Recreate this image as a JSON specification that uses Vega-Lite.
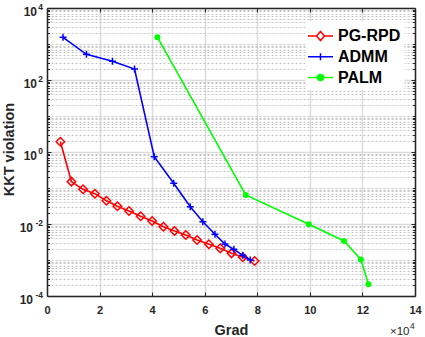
{
  "$schema": "https://vega.github.io/schema/vega-lite/v6.json",
  "width": 368,
  "height": 288,
  "autosize": "none",
  "padding": {"left": 47, "top": 8, "right": 10, "bottom": 41},
  "background": "white",
  "data": {
    "values": [
      {"method": "PG-RPD", "grad": 5100, "kkt": 1.93},
      {"method": "PG-RPD", "grad": 9300, "kkt": 0.15},
      {"method": "PG-RPD", "grad": 13700, "kkt": 0.092},
      {"method": "PG-RPD", "grad": 18200, "kkt": 0.0695},
      {"method": "PG-RPD", "grad": 22600, "kkt": 0.0443},
      {"method": "PG-RPD", "grad": 26800, "kkt": 0.031},
      {"method": "PG-RPD", "grad": 31200, "kkt": 0.023},
      {"method": "PG-RPD", "grad": 35600, "kkt": 0.0164},
      {"method": "PG-RPD", "grad": 40000, "kkt": 0.0121},
      {"method": "PG-RPD", "grad": 44300, "kkt": 0.0084},
      {"method": "PG-RPD", "grad": 48500, "kkt": 0.0064},
      {"method": "PG-RPD", "grad": 52800, "kkt": 0.00494},
      {"method": "PG-RPD", "grad": 57100, "kkt": 0.0036},
      {"method": "PG-RPD", "grad": 61600, "kkt": 0.00273},
      {"method": "PG-RPD", "grad": 65900, "kkt": 0.00211},
      {"method": "PG-RPD", "grad": 70200, "kkt": 0.00153},
      {"method": "PG-RPD", "grad": 74500, "kkt": 0.00119},
      {"method": "PG-RPD", "grad": 79000, "kkt": 0.00094},
      {"method": "ADMM", "grad": 6100, "kkt": 1535},
      {"method": "ADMM", "grad": 15000, "kkt": 518},
      {"method": "ADMM", "grad": 24900, "kkt": 330},
      {"method": "ADMM", "grad": 33300, "kkt": 202},
      {"method": "ADMM", "grad": 40800, "kkt": 0.74},
      {"method": "ADMM", "grad": 48200, "kkt": 0.135},
      {"method": "ADMM", "grad": 54500, "kkt": 0.0303},
      {"method": "ADMM", "grad": 59300, "kkt": 0.0116},
      {"method": "ADMM", "grad": 63900, "kkt": 0.00518},
      {"method": "ADMM", "grad": 67700, "kkt": 0.00278},
      {"method": "ADMM", "grad": 71100, "kkt": 0.00198},
      {"method": "ADMM", "grad": 74500, "kkt": 0.00135},
      {"method": "ADMM", "grad": 77300, "kkt": 0.001},
      {"method": "PALM", "grad": 42000, "kkt": 1550},
      {"method": "PALM", "grad": 75600, "kkt": 0.064},
      {"method": "PALM", "grad": 99600, "kkt": 0.0098},
      {"method": "PALM", "grad": 113000, "kkt": 0.00337},
      {"method": "PALM", "grad": 119400, "kkt": 0.00104},
      {"method": "PALM", "grad": 122300, "kkt": 0.000211}
    ]
  },
  "layer": [
    {
      "mark": {"type": "line", "opacity": 0},
      "encoding": {
        "detail": {"field": "method"},
        "x": {"field": "grad", "type": "quantitative", "scale": {"domain": [0, 140000], "nice": false, "zero": false},
          "axis": {"orient": "bottom", "values": [0, 20000, 40000, 60000, 80000, 100000, 120000, 140000],
            "labelExpr": "format(datum.value/10000, 'd')", "grid": true, "gridColor": "#dcdcdc", "gridWidth": 1.5,
            "tickSize": -4, "labelPadding": 12, "title": "Grad", "titleY": 38, "titleBaseline": "alphabetic",
            "domain": true}},
        "y": {"field": "kkt", "type": "quantitative", "scale": {"type": "log", "domain": [0.0001, 10000], "nice": false},
          "axis": {"orient": "left", "values": [0.0002,0.0003,0.0004,0.0005,0.0006,0.0007,0.0008,0.0009,0.001,0.002,0.003,0.004,0.005,0.006,0.007,0.008,0.009,0.02,0.03,0.04,0.05,0.06,0.07,0.08,0.09,0.1,0.2,0.3,0.4,0.5,0.6,0.7,0.8,0.9,2,3,4,5,6,7,8,9,10,20,30,40,50,60,70,80,90,200,300,400,500,600,700,800,900,1000,2000,3000,4000,5000,6000,7000,8000,9000],
            "grid": true, "gridColor": "#c4c4c4", "gridDash": [2, 2], "gridWidth": 1, "labels": false, "tickSize": -2.5,
            "domain": false, "title": null}}
      }
    },
    {
      "mark": {"type": "line", "opacity": 0},
      "encoding": {
        "detail": {"field": "method"},
        "x": {"field": "grad", "type": "quantitative", "scale": {"domain": [0, 140000], "nice": false, "zero": false},
          "axis": {"orient": "top", "values": [0, 20000, 40000, 60000, 80000, 100000, 120000, 140000],
            "labels": false, "grid": false, "tickSize": -4, "domain": true, "title": null}},
        "y": {"field": "kkt", "type": "quantitative", "scale": {"type": "log", "domain": [0.0001, 10000], "nice": false},
          "axis": {"orient": "left", "values": [0.0001, 0.01, 1, 100, 10000],
            "labels": false, "grid": true, "gridColor": "#dcdcdc", "gridWidth": 1.5, "tickSize": -4,
            "domain": true, "title": "KKT violation", "titleX": -34, "titleY": 141, "titleBaseline": "alphabetic"}}
      }
    },
    {
      "mark": {"type": "line", "opacity": 0},
      "encoding": {
        "detail": {"field": "method"},
        "x": {"field": "grad", "type": "quantitative", "scale": {"domain": [0, 140000], "nice": false, "zero": false}, "axis": null},
        "y": {"field": "kkt", "type": "quantitative", "scale": {"type": "log", "domain": [0.0001, 10000], "nice": false},
          "axis": {"orient": "left", "values": [1, 100, 10000], "labelExpr": "'10'",
            "grid": false, "ticks": false, "domain": false, "labelPadding": 10.5, "labelOffset": 3, "labelFontSize": 12, "title": null}}
      }
    },
    {
      "mark": {"type": "line", "opacity": 0},
      "encoding": {
        "detail": {"field": "method"},
        "x": {"field": "grad", "type": "quantitative", "scale": {"domain": [0, 140000], "nice": false, "zero": false}, "axis": null},
        "y": {"field": "kkt", "type": "quantitative", "scale": {"type": "log", "domain": [0.0001, 10000], "nice": false},
          "axis": {"orient": "left", "values": [0.0001, 0.01], "labelExpr": "'10'",
            "grid": false, "ticks": false, "domain": false, "labelPadding": 14.5, "labelOffset": 3, "labelFontSize": 12, "title": null}}
      }
    },
    {
      "mark": {"type": "line", "opacity": 0},
      "encoding": {
        "detail": {"field": "method"},
        "x": {"field": "grad", "type": "quantitative", "scale": {"domain": [0, 140000], "nice": false, "zero": false}, "axis": null},
        "y": {"field": "kkt", "type": "quantitative", "scale": {"type": "log", "domain": [0.0001, 10000], "nice": false},
          "axis": {"orient": "left", "values": [0.0001, 0.01, 1, 100, 10000],
            "labelExpr": "datum.value > 5000 ? '4' : datum.value > 50 ? '2' : datum.value > 0.5 ? '0' : datum.value > 0.005 ? '-2' : '-4'",
            "grid": false, "ticks": false, "domain": false, "labelPadding": 4.5, "labelOffset": -1.5, "labelFontSize": 8.5, "title": null}}
      }
    },
    {
      "mark": {"type": "line", "opacity": 0},
      "encoding": {
        "detail": {"field": "method"},
        "x": {"field": "grad", "type": "quantitative", "scale": {"domain": [0, 140000], "nice": false, "zero": false}, "axis": null},
        "y": {"field": "kkt", "type": "quantitative", "scale": {"type": "log", "domain": [0.0001, 10000], "nice": false},
          "axis": {"orient": "right", "values": [0.0002,0.0003,0.0004,0.0005,0.0006,0.0007,0.0008,0.0009,0.001,0.002,0.003,0.004,0.005,0.006,0.007,0.008,0.009,0.02,0.03,0.04,0.05,0.06,0.07,0.08,0.09,0.1,0.2,0.3,0.4,0.5,0.6,0.7,0.8,0.9,2,3,4,5,6,7,8,9,10,20,30,40,50,60,70,80,90,200,300,400,500,600,700,800,900,1000,2000,3000,4000,5000,6000,7000,8000,9000],
            "grid": false, "labels": false, "tickSize": -2.5, "domain": true,
            "title": "×10", "titleAngle": 0, "titleX": -6, "titleY": 326, "titleAlign": "right", "titleBaseline": "alphabetic",
            "titleFontWeight": "normal", "titleFontSize": 11.5}}
      }
    },
    {
      "mark": {"type": "line", "opacity": 0},
      "encoding": {
        "detail": {"field": "method"},
        "x": {"field": "grad", "type": "quantitative", "scale": {"domain": [0, 140000], "nice": false, "zero": false}, "axis": null},
        "y": {"field": "kkt", "type": "quantitative", "scale": {"type": "log", "domain": [0.0001, 10000], "nice": false},
          "axis": {"orient": "right", "values": [0.0001, 0.01, 1, 100, 10000],
            "grid": false, "labels": false, "tickSize": -4, "domain": false,
            "title": "4", "titleAngle": 0, "titleX": -5.5, "titleY": 320.5, "titleAlign": "left", "titleBaseline": "alphabetic",
            "titleFontWeight": "normal", "titleFontSize": 8.5}}
      }
    },
    {
      "transform": [{"filter": "datum.method === 'PG-RPD'"}],
      "mark": {"type": "line", "color": "#ff0000", "strokeWidth": 1.6,
        "point": {"shape": "diamond", "filled": false, "size": 72, "strokeWidth": 1.5, "color": "#ff0000"}},
      "encoding": {
        "x": {"field": "grad", "type": "quantitative", "scale": {"domain": [0, 140000], "nice": false, "zero": false}, "axis": null},
        "y": {"field": "kkt", "type": "quantitative", "scale": {"type": "log", "domain": [0.0001, 10000], "nice": false}, "axis": null}
      }
    },
    {
      "transform": [{"filter": "datum.method === 'ADMM'"}],
      "mark": {"type": "line", "color": "#0000ff", "strokeWidth": 1.6,
        "point": {"shape": "M-1,0H1M0,-1V1", "filled": false, "size": 49, "strokeWidth": 1.5, "color": "#0000ff"}},
      "encoding": {
        "x": {"field": "grad", "type": "quantitative", "scale": {"domain": [0, 140000], "nice": false, "zero": false}, "axis": null},
        "y": {"field": "kkt", "type": "quantitative", "scale": {"type": "log", "domain": [0.0001, 10000], "nice": false}, "axis": null}
      }
    },
    {
      "transform": [{"filter": "datum.method === 'PALM'"}],
      "mark": {"type": "line", "color": "#00ff00", "strokeWidth": 1.6,
        "point": {"shape": "circle", "filled": true, "size": 36, "color": "#00ff00", "opacity": 1}},
      "encoding": {
        "x": {"field": "grad", "type": "quantitative", "scale": {"domain": [0, 140000], "nice": false, "zero": false}, "axis": null},
        "y": {"field": "kkt", "type": "quantitative", "scale": {"type": "log", "domain": [0.0001, 10000], "nice": false}, "axis": null}
      }
    },
    {
      "mark": {"type": "point", "opacity": 0, "filled": false, "size": 400},
      "encoding": {
        "x": {"field": "grad", "type": "quantitative", "scale": {"domain": [0, 140000], "nice": false, "zero": false}, "axis": null},
        "y": {"field": "kkt", "type": "quantitative", "scale": {"type": "log", "domain": [0.0001, 10000], "nice": false}, "axis": null},
        "color": {"field": "method", "type": "nominal",
          "scale": {"domain": ["PG-RPD", "ADMM", "PALM"], "range": ["#ff0000", "#0000ff", "#00ff00"]},
          "legend": {"title": null, "orient": "none", "legendX": 258.5, "legendY": 13, "symbolOpacity": 1}},
        "shape": {"field": "method", "type": "nominal",
          "scale": {"domain": ["PG-RPD", "ADMM", "PALM"], "range": [
            "M-1.25,0H-0.4M0.4,0H1.25M0,-0.45L0.4,0L0,0.45L-0.4,0Z",
            "M-1.25,0H1.25M0,-0.35V0.35",
            "M-1.25,0H1.25M0.3,0A0.3,0.3,0,1,1,-0.3,0A0.3,0.3,0,1,1,0.3,0Z"]},
          "legend": {"title": null, "orient": "none", "legendX": 258.5, "legendY": 13, "symbolOpacity": 1}},
        "fill": {"field": "method", "type": "nominal",
          "scale": {"domain": ["PG-RPD", "ADMM", "PALM"], "range": ["transparent", "transparent", "#00ff00"]},
          "legend": {"title": null, "orient": "none", "legendX": 258.5, "legendY": 13, "symbolOpacity": 1}}
      }
    }
  ],
  "resolve": {"axis": {"x": "independent", "y": "independent"}},
  "config": {
    "view": {"stroke": null},
    "font": "Liberation Sans",
    "axis": {
      "labelFont": "Liberation Sans", "labelFontSize": 11, "labelFontWeight": "bold", "labelColor": "#262626",
      "titleFont": "Liberation Sans", "titleFontSize": 14.5, "titleFontWeight": "bold", "titleColor": "#262626",
      "domainColor": "#262626", "domainWidth": 1.5, "tickColor": "#262626", "tickWidth": 1,
      "labelFlush": false, "labelOverlap": false, "labelBound": false
    },
    "legend": {
      "labelFont": "Liberation Sans", "labelFontSize": 16, "labelFontWeight": "bold", "labelColor": "#000000",
      "symbolSize": 400, "symbolStrokeWidth": 1.5, "labelOffset": 6.5, "rowPadding": 1.8,
      "padding": 4, "fillColor": "white", "strokeColor": null, "symbolOpacity": 1
    }
  }
}
